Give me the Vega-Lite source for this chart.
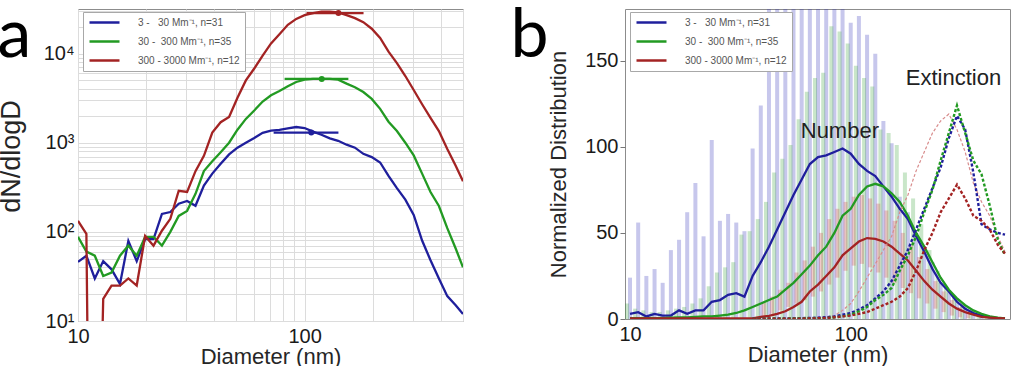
{
  "$schema": "https://vega.github.io/schema/vega-lite/v6.json",
  "background": "white",
  "padding": {"left": -4, "top": 0, "right": 0, "bottom": 0},
  "config": {
    "font": "Liberation Sans",
    "view": {"stroke": "#8c8c8c", "strokeWidth": 1},
    "axis": {
      "labelFont": "Liberation Sans", "titleFont": "Liberation Sans",
      "labelColor": "#1a1a1a", "titleColor": "#262626",
      "labelFontSize": 20, "titleFontSize": 22, "titleFontWeight": "normal",
      "domain": false, "ticks": false, "labelOverlap": false, "labelBound": false, "labelFlush": false
    },
    "legend": {
      "title": null, "orient": "none", "legendX": 5, "legendY": 3,
      "labelFont": "Liberation Sans", "labelFontSize": 10, "labelColor": "#555555",
      "symbolType": "M-3.75,0H3.75", "symbolSize": 64, "symbolStrokeWidth": 2.5,
      "symbolOffset": 11, "labelOffset": 28, "rowPadding": 8, "padding": 5,
      "strokeColor": "#a8a8a8", "fillColor": "white", "cornerRadius": 0
    }
  },
  "datasets": {
    "sizeA": [
      {"D": 10, "low": 46, "mid": 88, "high": 133},
      {"D": 10.89, "low": 54, "mid": 60, "high": 95},
      {"D": 11.1, "high": 1},
      {"D": 11.86, "low": 30, "mid": 54},
      {"D": 12.6, "high": 1},
      {"D": 12.92, "low": 47, "mid": 32, "high": 17.7},
      {"D": 14.06, "low": 38, "mid": 35, "high": 25},
      {"D": 15.32, "low": 26, "mid": 54, "high": 25},
      {"D": 16.68, "low": 79, "mid": 70, "high": 30},
      {"D": 18.16, "low": 47, "mid": 54, "high": 25},
      {"D": 19.78, "low": 83, "mid": 88, "high": 90},
      {"D": 21.54, "low": 83, "mid": 88, "high": 70},
      {"D": 23.46, "low": 159, "mid": 70, "high": 103},
      {"D": 25.55, "low": 167, "mid": 100, "high": 140},
      {"D": 27.83, "low": 207, "mid": 151, "high": 289},
      {"D": 30.3, "low": 222, "mid": 172, "high": 280},
      {"D": 33.0, "low": 196, "mid": 267, "high": 480},
      {"D": 35.94, "low": 330, "mid": 480, "high": 712},
      {"D": 39.14, "low": 450, "mid": 620, "high": 1300},
      {"D": 42.62, "low": 580, "mid": 780, "high": 1700},
      {"D": 46.42, "low": 740, "mid": 1000, "high": 1950},
      {"D": 50.55, "low": 880, "mid": 1400, "high": 3200},
      {"D": 55.05, "low": 1000, "mid": 1850, "high": 5000},
      {"D": 59.95, "low": 1130, "mid": 2300, "high": 6800},
      {"D": 65.29, "low": 1290, "mid": 2900, "high": 9500},
      {"D": 71.1, "low": 1370, "mid": 3400, "high": 13000},
      {"D": 77.43, "low": 1390, "mid": 3800, "high": 16500},
      {"D": 84.32, "low": 1450, "mid": 4300, "high": 21000},
      {"D": 91.83, "low": 1500, "mid": 4800, "high": 24500},
      {"D": 100, "low": 1460, "mid": 5100, "high": 27000},
      {"D": 108.9, "low": 1330, "mid": 5200, "high": 28500},
      {"D": 118.6, "low": 1230, "mid": 5200, "high": 29500},
      {"D": 129.2, "low": 1120, "mid": 5200, "high": 29500},
      {"D": 140.6, "low": 1050, "mid": 5100, "high": 29000},
      {"D": 153.2, "low": 950, "mid": 4600, "high": 27000},
      {"D": 166.8, "low": 880, "mid": 4200, "high": 25000},
      {"D": 181.6, "low": 750, "mid": 3700, "high": 22500},
      {"D": 197.8, "low": 690, "mid": 3100, "high": 19000},
      {"D": 215.4, "low": 600, "mid": 2400, "high": 15000},
      {"D": 234.6, "low": 425, "mid": 1720, "high": 10500},
      {"D": 255.5, "low": 310, "mid": 1350, "high": 7800},
      {"D": 278.3, "low": 230, "mid": 1000, "high": 5600},
      {"D": 303.0, "low": 155, "mid": 720, "high": 3900},
      {"D": 330.0, "low": 80, "mid": 450, "high": 2700},
      {"D": 359.4, "low": 48, "mid": 280, "high": 1900},
      {"D": 391.4, "low": 30, "mid": 195, "high": 1350},
      {"D": 426.2, "low": 19, "mid": 110, "high": 850},
      {"D": 464.2, "low": 15, "mid": 65, "high": 550},
      {"D": 500, "low": 12, "mid": 40, "high": 370}
    ],
    "peaksA": [
      {"series": "low", "D": 107, "lo": 73, "hi": 141, "v": 1300},
      {"series": "mid", "D": 119, "lo": 81.6, "hi": 156, "v": 5200},
      {"series": "high", "D": 141, "lo": 102, "hi": 182, "v": 28500}
    ],
    "barsB": [
      {"D": 10, "low": 24, "mid": 9},
      {"D": 10.89, "low": 56, "mid": 6},
      {"D": 11.86, "low": 25, "mid": 5},
      {"D": 12.92, "low": 29, "mid": 4},
      {"D": 14.06, "low": 21, "mid": 4},
      {"D": 15.32, "low": 40, "mid": 5},
      {"D": 16.68, "low": 46, "mid": 6},
      {"D": 18.16, "low": 62, "mid": 7},
      {"D": 19.78, "low": 79, "mid": 9},
      {"D": 21.54, "low": 48, "mid": 12},
      {"D": 23.46, "low": 104, "mid": 19},
      {"D": 25.55, "low": 57, "mid": 27},
      {"D": 27.83, "low": 61, "mid": 30},
      {"D": 30.3, "low": 56, "mid": 33},
      {"D": 33.0, "low": 51, "mid": 49},
      {"D": 35.94, "low": 99, "mid": 51},
      {"D": 39.14, "low": 124, "mid": 58, "highLo": 2, "highHi": 10},
      {"D": 42.62, "low": 200, "mid": 68, "highLo": 3, "highHi": 13},
      {"D": 46.42, "low": 200, "mid": 85, "highLo": 5, "highHi": 17},
      {"D": 50.55, "low": 200, "mid": 93, "highLo": 7, "highHi": 21},
      {"D": 55.05, "low": 200, "mid": 101, "highLo": 9, "highHi": 27},
      {"D": 59.95, "low": 200, "mid": 116, "highLo": 11, "highHi": 34},
      {"D": 65.29, "low": 200, "mid": 132, "highLo": 13, "highHi": 42},
      {"D": 71.1, "low": 200, "mid": 140, "highLo": 16, "highHi": 50},
      {"D": 77.43, "low": 200, "mid": 143, "highLo": 20, "highHi": 58},
      {"D": 84.32, "low": 200, "mid": 170, "highLo": 24, "highHi": 64},
      {"D": 91.83, "low": 200, "mid": 167, "highLo": 28, "highHi": 68},
      {"D": 100, "low": 172, "mid": 160, "highLo": 31, "highHi": 71},
      {"D": 108.9, "low": 176, "mid": 147, "highLo": 32, "highHi": 72},
      {"D": 118.6, "low": 165, "mid": 140, "highLo": 30, "highHi": 70},
      {"D": 129.2, "low": 154, "mid": 135, "highLo": 27, "highHi": 67},
      {"D": 140.6, "low": 115, "mid": 110, "highLo": 24, "highHi": 63},
      {"D": 153.2, "low": 102, "mid": 108, "highLo": 21, "highHi": 57},
      {"D": 166.8, "low": 71, "mid": 101, "highLo": 18, "highHi": 50},
      {"D": 181.6, "low": 62, "mid": 85, "highLo": 15, "highHi": 43},
      {"D": 197.8, "low": 50, "mid": 70, "highLo": 12, "highHi": 36},
      {"D": 215.4, "low": 42, "mid": 55, "highLo": 9, "highHi": 29},
      {"D": 234.6, "low": 33, "mid": 40, "highLo": 6, "highHi": 22},
      {"D": 255.5, "low": 21, "mid": 28, "highLo": 4, "highHi": 16},
      {"D": 278.3, "low": 16, "mid": 19, "highLo": 2, "highHi": 11},
      {"D": 303.0, "low": 12, "mid": 13, "highLo": 1, "highHi": 7},
      {"D": 330.0, "low": 8, "mid": 9, "highLo": 0.5, "highHi": 4},
      {"D": 359.4, "low": 5, "mid": 5},
      {"D": 391.4, "low": 3, "mid": 3},
      {"D": 426.2, "low": 2, "mid": 2},
      {"D": 464.2, "low": 1, "mid": 1}
    ],
    "numberB": [
      {"D": 10, "low": 3, "mid": 0.5, "high": 0.3},
      {"D": 10.89, "low": 4, "mid": 0.5, "high": 0.3},
      {"D": 11.86, "low": 1.5, "mid": 0.5, "high": 0.3},
      {"D": 12.92, "low": 3, "mid": 0.5, "high": 0.3},
      {"D": 14.06, "low": 2, "mid": 0.5, "high": 0.3},
      {"D": 15.32, "low": 2, "mid": 0.8, "high": 0.3},
      {"D": 16.68, "low": 5, "mid": 1, "high": 0.3},
      {"D": 18.16, "low": 3, "mid": 1, "high": 0.3},
      {"D": 19.78, "low": 5, "mid": 1.2, "high": 0.3},
      {"D": 21.54, "low": 5, "mid": 1.5, "high": 0.3},
      {"D": 23.46, "low": 10, "mid": 1.5, "high": 0.3},
      {"D": 25.55, "low": 11, "mid": 2, "high": 0.3},
      {"D": 27.83, "low": 14, "mid": 2.5, "high": 0.3},
      {"D": 30.3, "low": 15, "mid": 3.5, "high": 0.3},
      {"D": 33.0, "low": 13, "mid": 5, "high": 0.3},
      {"D": 35.94, "low": 25, "mid": 7, "high": 0.3},
      {"D": 39.14, "low": 33, "mid": 9, "high": 1.2},
      {"D": 42.62, "low": 42, "mid": 11, "high": 1.8},
      {"D": 46.42, "low": 52, "mid": 13, "high": 3},
      {"D": 50.55, "low": 62, "mid": 17, "high": 4.5},
      {"D": 55.05, "low": 72, "mid": 21, "high": 7},
      {"D": 59.95, "low": 81, "mid": 26, "high": 10},
      {"D": 65.29, "low": 90, "mid": 31, "high": 16},
      {"D": 71.1, "low": 94, "mid": 37, "high": 20},
      {"D": 77.43, "low": 95, "mid": 42, "high": 25},
      {"D": 84.32, "low": 97, "mid": 50, "high": 30},
      {"D": 91.83, "low": 99, "mid": 60, "high": 37},
      {"D": 100, "low": 96, "mid": 64, "high": 41},
      {"D": 108.9, "low": 90, "mid": 72, "high": 45},
      {"D": 118.6, "low": 86, "mid": 77, "high": 47},
      {"D": 129.2, "low": 83, "mid": 78.5, "high": 46.5},
      {"D": 140.6, "low": 77, "mid": 77, "high": 45},
      {"D": 153.2, "low": 71, "mid": 73, "high": 42},
      {"D": 166.8, "low": 64, "mid": 68, "high": 38},
      {"D": 181.6, "low": 58, "mid": 60, "high": 34},
      {"D": 197.8, "low": 48, "mid": 50, "high": 28},
      {"D": 215.4, "low": 39, "mid": 42, "high": 22},
      {"D": 234.6, "low": 29, "mid": 33, "high": 17},
      {"D": 255.5, "low": 21, "mid": 24, "high": 13},
      {"D": 278.3, "low": 16, "mid": 17, "high": 9},
      {"D": 303.0, "low": 10, "mid": 12, "high": 6},
      {"D": 330.0, "low": 6, "mid": 8, "high": 4},
      {"D": 359.4, "low": 3.5, "mid": 5, "high": 2.5},
      {"D": 391.4, "low": 2, "mid": 3, "high": 1.2},
      {"D": 426.2, "low": 1, "mid": 1.5, "high": 0.8},
      {"D": 464.2, "low": 0.5, "mid": 0.8, "high": 0.5},
      {"D": 500, "low": 0.3, "mid": 0.3, "high": 0.3}
    ],
    "extinctionB": [
      {"D": 35.94, "low": 0.2, "mid": 0.2, "high": 0.2},
      {"D": 39.14, "low": 0.2, "mid": 0.2, "high": 0.2},
      {"D": 42.62, "low": 0.3, "mid": 0.2, "high": 0.2},
      {"D": 46.42, "low": 0.3, "mid": 0.2, "high": 0.2, "thin": 0.2},
      {"D": 50.55, "low": 0.3, "mid": 0.2, "high": 0.2, "thin": 0.2},
      {"D": 55.05, "low": 0.4, "mid": 0.3, "high": 0.2, "thin": 0.3},
      {"D": 59.95, "low": 0.5, "mid": 0.3, "high": 0.2, "thin": 0.4},
      {"D": 65.29, "low": 0.6, "mid": 0.3, "high": 0.3, "thin": 0.6},
      {"D": 71.1, "low": 0.8, "mid": 0.4, "high": 0.4, "thin": 0.9},
      {"D": 77.43, "low": 1, "mid": 0.5, "high": 0.6, "thin": 1.2},
      {"D": 84.32, "low": 1.5, "mid": 1, "high": 1, "thin": 2},
      {"D": 91.83, "low": 2.5, "mid": 1.5, "high": 1.5, "thin": 5},
      {"D": 100, "low": 3.5, "mid": 2.5, "high": 2, "thin": 9},
      {"D": 108.9, "low": 5.5, "mid": 4.5, "high": 3, "thin": 16},
      {"D": 118.6, "low": 8, "mid": 7, "high": 4, "thin": 24},
      {"D": 129.2, "low": 12, "mid": 11, "high": 6, "thin": 32},
      {"D": 140.6, "low": 16, "mid": 14, "high": 8, "thin": 40},
      {"D": 153.2, "low": 22, "mid": 18, "high": 10, "thin": 48},
      {"D": 166.8, "low": 31, "mid": 28, "high": 13, "thin": 62},
      {"D": 181.6, "low": 40, "mid": 37, "high": 18, "thin": 72},
      {"D": 197.8, "low": 52, "mid": 48, "high": 28, "thin": 86},
      {"D": 215.4, "low": 64, "mid": 62, "high": 40, "thin": 97},
      {"D": 234.6, "low": 76, "mid": 75, "high": 50, "thin": 108},
      {"D": 255.5, "low": 88, "mid": 92, "high": 62, "thin": 115},
      {"D": 278.3, "low": 105, "mid": 108, "high": 70, "thin": 119},
      {"D": 303.0, "low": 118, "mid": 124, "high": 78, "thin": 110},
      {"D": 330.0, "low": 110, "mid": 108, "high": 70, "thin": 97},
      {"D": 359.4, "low": 85, "mid": 92, "high": 60, "thin": 79},
      {"D": 391.4, "low": 55, "mid": 84, "high": 57, "thin": 68},
      {"D": 426.2, "low": 52, "mid": 66, "high": 52, "thin": 60},
      {"D": 464.2, "low": 50, "mid": 46, "high": 43, "thin": 48},
      {"D": 500, "low": 49, "mid": 37, "high": 38, "thin": 39}
    ],
    "labelsB": [
      {"D": 89.3, "v": 109, "text": "Number"},
      {"D": 292, "v": 140, "text": "Extinction"}
    ]
  },
  "resolve": {
    "scale": {"x": "independent", "y": "independent", "color": "independent", "stroke": "independent", "fill": "independent"},
    "legend": {"color": "independent", "stroke": "independent"}
  },
  "spacing": 45,
  "hconcat": [
    {
      "width": 385,
      "height": 312,
      "resolve": {"axis": {"x": "independent"}},
      "layer": [
        {
          "data": {"name": "sizeA"},
          "transform": [
            {"fold": ["low", "mid", "high"], "as": ["series", "v"]},
            {"filter": {"field": "v", "valid": true}}
          ],
          "mark": {"type": "line", "strokeWidth": 2.3, "clip": true},
          "encoding": {
            "x": {
              "field": "D", "type": "quantitative", "title": "Diameter (nm)",
              "scale": {"type": "log", "domain": [10, 500], "nice": false},
              "axis": {
                "values": [10, 20, 30, 40, 50, 60, 70, 80, 90, 100, 200, 300, 400, 500],
                "labelExpr": "datum.value == 10 ? '10' : datum.value == 100 ? '100' : ''",
                "grid": true, "gridColor": "#dcdcdc", "labelPadding": 5, "titlePadding": 0
              }
            },
            "y": {
              "field": "v", "type": "quantitative", "title": "dN/dlogD",
              "scale": {"type": "log", "domain": [10, 31623], "nice": false},
              "axis": {
                "values": [10, 20, 30, 40, 50, 60, 70, 80, 90, 100, 200, 300, 400, 500, 600, 700, 800, 900, 1000, 2000, 3000, 4000, 5000, 6000, 7000, 8000, 9000, 10000, 20000, 30000],
                "labelExpr": "datum.value == 10 ? '10¹' : datum.value == 100 ? '10²' : datum.value == 1000 ? '10³' : datum.value == 10000 ? '10⁴' : ''",
                "grid": true, "gridColor": "#dcdcdc", "labelPadding": 4, "titlePadding": 18, "titleFontSize": 27, "titleY": 147
              }
            },
            "color": {
              "field": "series", "type": "nominal",
              "scale": {"domain": ["low", "mid", "high"], "range": ["#1f1f9c", "#229a22", "#a32323"]},
              "legend": {
                "labelExpr": "datum.value == 'low' ? '\u00a0\u00a0\u00a03 -\u00a0\u00a0\u00a030 Mm⁻¹, n=31' : datum.value == 'mid' ? '\u00a030 -\u00a0\u00a0300 Mm⁻¹, n=35' : '300 - 3000 Mm⁻¹, n=12'"
              }
            }
          }
        },
        {
          "data": {"name": "peaksA"},
          "mark": {"type": "rule", "strokeWidth": 2.3},
          "encoding": {
            "x": {
              "field": "lo", "type": "quantitative", "title": "a",
              "axis": {
                "orient": "top", "labels": false, "ticks": false, "domain": false, "grid": false,
                "titleFont": "Lato", "titleFontSize": 68, "titleFontWeight": "normal", "titleColor": "#000000",
                "titleAngle": 0, "titleAlign": "left", "titleBaseline": "alphabetic", "titleX": -81, "titleY": 47
              }
            },
            "x2": {"field": "hi"},
            "y": {"field": "v", "type": "quantitative", "title": "dN/dlogD"},
            "stroke": {
              "field": "series", "type": "nominal", "legend": null,
              "scale": {"domain": ["low", "mid", "high"], "range": ["#1f1f9c", "#229a22", "#a32323"]}
            }
          }
        },
        {
          "data": {"name": "peaksA"},
          "mark": {"type": "point", "filled": true, "size": 36, "opacity": 1},
          "encoding": {
            "x": {"field": "D", "type": "quantitative", "axis": null},
            "y": {"field": "v", "type": "quantitative", "title": "dN/dlogD"},
            "fill": {
              "field": "series", "type": "nominal", "legend": null,
              "scale": {"domain": ["low", "mid", "high"], "range": ["#1f1f9c", "#229a22", "#a32323"]}
            }
          }
        }
      ]
    },
    {
      "width": 385,
      "height": 310,
      "resolve": {"axis": {"x": "independent"}},
      "layer": [
        {
          "data": {"name": "barsB"},
          "transform": [{"filter": {"field": "low", "valid": true}}],
          "mark": {"type": "bar", "size": 4, "color": "#2828b4", "opacity": 0.26, "clip": true},
          "encoding": {
            "x": {
              "field": "D", "type": "quantitative", "title": "Diameter (nm)",
              "scale": {"type": "log", "domain": [10, 500], "nice": false},
              "axis": {
                "values": [10, 100],
                "labelExpr": "datum.value == 10 ? '10' : '100'",
                "grid": false, "labelPadding": 5, "titlePadding": 0
              }
            },
            "y": {
              "field": "low", "type": "quantitative", "title": "Normalized Distribution",
              "scale": {"domain": [0, 180], "nice": false},
              "axis": {
                "values": [0, 50, 100, 150], "grid": false, "ticks": true, "tickSize": 5, "tickColor": "#777777",
                "labelPadding": 2, "titlePadding": 14
              }
            },
            "y2": {"datum": 0}
          }
        },
        {
          "data": {"name": "barsB"},
          "transform": [{"filter": {"field": "mid", "valid": true}}],
          "mark": {"type": "bar", "size": 4, "color": "#30a030", "opacity": 0.26, "clip": true, "xOffset": -3},
          "encoding": {
            "x": {
              "field": "D", "type": "quantitative", "title": "b",
              "axis": {
                "orient": "top", "labels": false, "ticks": false, "domain": false, "grid": false,
                "titleFont": "Lato", "titleFontSize": 68, "titleFontWeight": "normal", "titleColor": "#000000",
                "titleAngle": 0, "titleAlign": "left", "titleBaseline": "alphabetic", "titleX": -115, "titleY": 47
              }
            },
            "y": {"field": "mid", "type": "quantitative", "title": "Normalized Distribution"},
            "y2": {"datum": 0}
          }
        },
        {
          "data": {"name": "barsB"},
          "transform": [{"filter": {"field": "highHi", "valid": true}}],
          "mark": {"type": "bar", "size": 4, "color": "#c83232", "opacity": 0.26, "clip": true, "xOffset": 3},
          "encoding": {
            "x": {"field": "D", "type": "quantitative", "axis": null},
            "y": {"field": "highLo", "type": "quantitative", "title": "Normalized Distribution"},
            "y2": {"field": "highHi"}
          }
        },
        {
          "data": {"name": "numberB"},
          "transform": [
            {"fold": ["low", "mid", "high"], "as": ["series", "v"]},
            {"filter": {"field": "v", "valid": true}}
          ],
          "mark": {"type": "line", "strokeWidth": 2.3, "clip": true},
          "encoding": {
            "x": {"field": "D", "type": "quantitative", "axis": null},
            "y": {"field": "v", "type": "quantitative", "title": "Normalized Distribution"},
            "color": {
              "field": "series", "type": "nominal",
              "scale": {"domain": ["low", "mid", "high"], "range": ["#1f1f9c", "#229a22", "#a32323"]},
              "legend": {
                "labelExpr": "datum.value == 'low' ? '\u00a0\u00a0\u00a03 -\u00a0\u00a0\u00a030 Mm⁻¹, n=31' : datum.value == 'mid' ? '\u00a030 -\u00a0\u00a0300 Mm⁻¹, n=35' : '300 - 3000 Mm⁻¹, n=12'"
              }
            }
          }
        },
        {
          "data": {"name": "extinctionB"},
          "transform": [{"filter": {"field": "thin", "valid": true}}],
          "mark": {"type": "line", "color": "#d88c8c", "strokeWidth": 1.2, "strokeDash": [3, 2], "clip": true},
          "encoding": {
            "x": {"field": "D", "type": "quantitative", "axis": null},
            "y": {"field": "thin", "type": "quantitative", "title": "Normalized Distribution"}
          }
        },
        {
          "data": {"name": "extinctionB"},
          "transform": [
            {"fold": ["low", "mid", "high"], "as": ["series", "v"]},
            {"filter": {"field": "v", "valid": true}}
          ],
          "mark": {"type": "line", "strokeWidth": 2.4, "strokeDash": [3, 2], "clip": true},
          "encoding": {
            "x": {"field": "D", "type": "quantitative", "axis": null},
            "y": {"field": "v", "type": "quantitative", "title": "Normalized Distribution"},
            "stroke": {
              "field": "series", "type": "nominal", "legend": null,
              "scale": {"domain": ["low", "mid", "high"], "range": ["#1f1f9c", "#229a22", "#a32323"]}
            }
          }
        },
        {
          "data": {"name": "labelsB"},
          "mark": {"type": "text", "font": "Liberation Sans", "fontSize": 22, "color": "#222222"},
          "encoding": {
            "x": {"field": "D", "type": "quantitative", "axis": null},
            "y": {"field": "v", "type": "quantitative", "title": "Normalized Distribution"},
            "text": {"field": "text"}
          }
        }
      ]
    }
  ]
}
